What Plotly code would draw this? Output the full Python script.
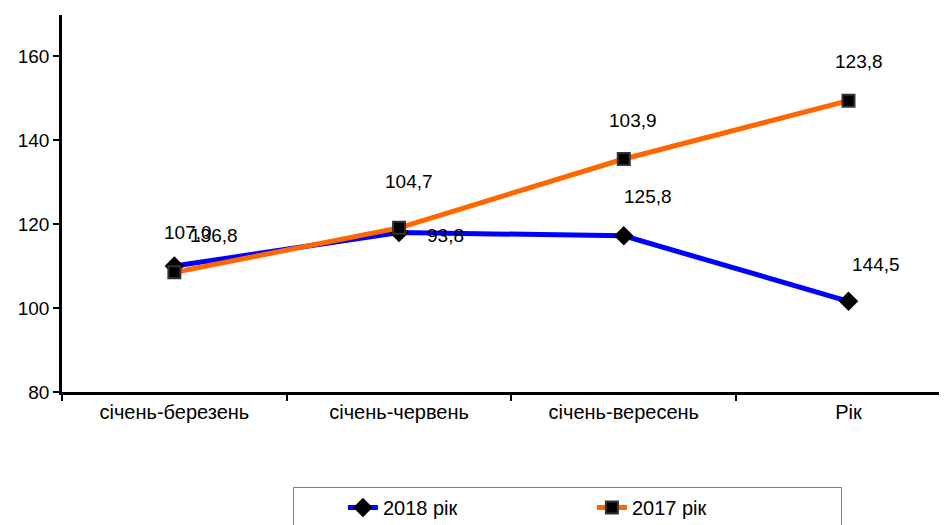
import plotly.graph_objects as go

categories = ["січень-березень", "січень-червень", "січень-вересень", "Рік"]
series_2018_name = "2018 рік"
series_2017_name = "2017 рік"
values_2018 = [110.0, 118.0, 117.2, 101.6]
values_2017 = [108.5, 119.1, 135.5, 149.4]
labels_2018 = ["107,0", "93,8", "125,8", "144,5"]
labels_2017 = ["136,8", "104,7", "103,9", "123,8"]
y_ticks = [80, 100, 120, 140, 160]

# label offsets in pixels (style only)
off_2018 = [(14, 34), (46, -3), (24, 39), (28, 37)]
off_2017 = [(40, 37), (10, 46), (9, 39), (11, 39)]

FONT = "Liberation Sans, Arial, sans-serif"

fig = go.Figure()
fig.add_trace(go.Scatter(
    x=categories, y=values_2018, name=series_2018_name, mode="lines+markers",
    line=dict(color="#0000FF", width=5),
    marker=dict(symbol="diamond", size=15, color="black", line=dict(width=0)),
))
fig.add_trace(go.Scatter(
    x=categories, y=values_2017, name=series_2017_name, mode="lines+markers",
    line=dict(color="#FF6600", width=5),
    marker=dict(symbol="square", size=12, color="black", line=dict(color="#333333", width=2)),
))

for vals, labs, offs in [(values_2018, labels_2018, off_2018), (values_2017, labels_2017, off_2017)]:
    for c, v, t, (dx, dy) in zip(categories, vals, labs, offs):
        fig.add_annotation(x=c, y=v, text=t, showarrow=False, xshift=dx, yshift=dy,
                           font=dict(family=FONT, size=19, color="black"))

fig.update_layout(
    width=947, height=525,
    margin=dict(l=54, r=0, t=7, b=141),
    paper_bgcolor="white", plot_bgcolor="white",
    font=dict(family=FONT, size=19, color="black"),
    showlegend=True,
    legend=dict(
        orientation="h", xref="container", yref="container",
        x=285 / 947, xanchor="left", y=1 - 479 / 525, yanchor="top",
        bordercolor="#808080", borderwidth=1, bgcolor="white",
        font=dict(family=FONT, size=20, color="black"),
        entrywidth=204, entrywidthmode="pixels",
        title=dict(text="&nbsp;" * 7, side="left", font=dict(size=20)),
    ),
    xaxis=dict(
        type="category", range=[-0.5, 3.474], tickson="boundaries",
        showline=True, linecolor="black", linewidth=2.5,
        ticks="outside", ticklen=6, tickwidth=2, tickcolor="black",
        showgrid=False, zeroline=False,
        tickfont=dict(family=FONT, size=20),
    ),
    yaxis=dict(
        range=[80, 169.8], tickvals=y_ticks,
        showline=True, linecolor="black", linewidth=2.5,
        ticks="outside", ticklen=6, tickwidth=2, tickcolor="black",
        showgrid=False, zeroline=False,
        tickfont=dict(family=FONT, size=19),
    ),
)

fig.write_html("out.html")
